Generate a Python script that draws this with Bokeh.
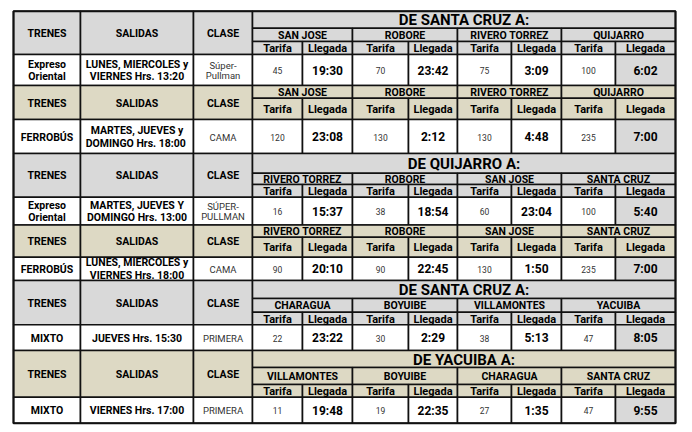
from bokeh.plotting import figure
from bokeh.models import ColumnDataSource, Range1d
from bokeh.core.properties import value
from bokeh.embed import file_html
from bokeh.resources import INLINE

# ---------------- data ----------------
trains = ["Expreso\nOriental", "FERROBÚS", "Expreso\nOriental", "FERROBÚS", "MIXTO", "MIXTO"]
salidas = ["LUNES, MIERCOLES y\nVIERNES Hrs. 13:20",
           "MARTES, JUEVES y\nDOMINGO  Hrs. 18:00",
           "MARTES, JUEVES Y\nDOMINGO Hrs. 13:00",
           "LUNES, MIERCOLES y\nVIERNES Hrs. 18:00",
           "JUEVES Hrs. 15:30",
           "VIERNES Hrs. 17:00"]
clases = ["Súper-\nPullman", "CAMA", "SÚPER-\nPULLMAN", "CAMA", "PRIMERA", "PRIMERA"]
titles = ["DE SANTA CRUZ A:", None, "DE QUIJARRO A:", None, "DE SANTA CRUZ A:", "DE YACUIBA A:"]
stations = [["SAN JOSE", "ROBORE", "RIVERO TORREZ", "QUIJARRO"],
            ["SAN JOSE", "ROBORE", "RIVERO TORREZ", "QUIJARRO"],
            ["RIVERO TORREZ", "ROBORE", "SAN JOSE", "SANTA CRUZ"],
            ["RIVERO TORREZ", "ROBORE", "SAN JOSE", "SANTA CRUZ"],
            ["CHARAGUA", "BOYUIBE", "VILLAMONTES", "YACUIBA"],
            ["VILLAMONTES", "BOYUIBE", "CHARAGUA", "SANTA CRUZ"]]
tarifas = [[45, 70, 75, 100],
           [120, 130, 130, 235],
           [16, 38, 60, 100],
           [90, 90, 130, 235],
           [22, 30, 38, 47],
           [11, 19, 27, 47]]
llegadas = [["19:30", "23:42", "3:09", "6:02"],
            ["23:08", "2:12", "4:48", "7:00"],
            ["15:37", "18:54", "23:04", "5:40"],
            ["20:10", "22:45", "1:50", "7:00"],
            ["23:22", "2:29", "5:13", "8:05"],
            ["19:48", "22:35", "1:35", "9:55"]]
head_left = ["TRENES", "SALIDAS", "CLASE"]
sub_head = ["Tarifa", "Llegada"]

# ---------------- layout ----------------
GREY = "#d9d9d9"
TAN = "#ddd9c4"
block_fill = [GREY, TAN, GREY, TAN, GREY, TAN]
# (title_top, station_top, tarifa_top, data_top, data_bottom)
rows = [(10.7, 27.7, 41.0, 54.0, 85.0),
        (None, 85.0, 97.7, 119.0, 153.0),
        (153.0, 172.7, 184.0, 196.7, 224.5),
        (None, 224.5, 236.7, 256.7, 280.0),
        (280.0, 298.0, 311.7, 324.3, 350.0),
        (350.0, 367.0, 384.0, 396.7, 422.7)]
left_x = [13, 80, 193, 252]
sub_x = [252, 302, 352, 408, 457, 511, 561, 615, 675]

FONT = "Roboto"

q = dict(left=[], right=[], top=[], bottom=[], fill=[])
t = dict(x=[], y=[], text=[], size=[], style=[], color=[])


def cell(x0, x1, y0, y1, fill):
    q["left"].append(x0); q["right"].append(x1)
    q["top"].append(y0); q["bottom"].append(y1)
    q["fill"].append(fill)


def label(x, y, text, size, style="bold", color="#000000"):
    t["x"].append(x); t["y"].append(y); t["text"].append(text)
    t["size"].append(size); t["style"].append(style); t["color"].append(color)


for b in range(6):
    tt, st, tf, dt, db = rows[b]
    fill = block_fill[b]
    top = tt if tt is not None else st
    # left header cells
    for i in range(3):
        cell(left_x[i], left_x[i + 1], top, dt, fill)
        label((left_x[i] + left_x[i + 1]) / 2, (top + dt) / 2 + 0.5, head_left[i], "10.5px")
    # data left cells
    dy = (dt + db) / 2 + 0.5
    cell(left_x[0], left_x[1], dt, db, "#ffffff")
    label((left_x[0] + left_x[1]) / 2, dy, trains[b], "10.5px")
    cell(left_x[1], left_x[2], dt, db, "#ffffff")
    label((left_x[1] + left_x[2]) / 2, dy, salidas[b], "10.5px")
    cell(left_x[2], left_x[3], dt, db, "#ffffff")
    label((left_x[2] + left_x[3]) / 2, dy, clases[b], "9.5px", "normal", "#333333")
    # title row
    if tt is not None:
        cell(sub_x[0], sub_x[-1], tt, st, fill)
        label((sub_x[0] + sub_x[-1]) / 2, (tt + st) / 2 + 0.5, titles[b], "15px")
    for k in range(4):
        x0, xm, x1 = sub_x[2 * k], sub_x[2 * k + 1], sub_x[2 * k + 2]
        cell(x0, x1, st, tf, fill)
        label((x0 + x1) / 2, (st + tf) / 2 + 0.5, stations[b][k], "10.5px")
        cell(x0, xm, tf, dt, fill)
        label((x0 + xm) / 2, (tf + dt) / 2 + 0.5, sub_head[0], "11px")
        cell(xm, x1, tf, dt, fill)
        label((xm + x1) / 2, (tf + dt) / 2 + 0.5, sub_head[1], "11px")
        cell(x0, xm, dt, db, "#ffffff")
        label((x0 + xm) / 2, dy, str(tarifas[b][k]), "8.5px", "normal", "#333333")
        cell(xm, x1, dt, db, GREY if k == 3 else "#ffffff")
        label((xm + x1) / 2, dy, llegadas[b][k], "12px")

p = figure(width=680, height=426, output_backend="svg", toolbar_location=None,
           x_range=Range1d(0, 680), y_range=Range1d(426, 0),
           min_border=0, background_fill_color="#ffffff")
p.axis.visible = False
p.xgrid.visible = False
p.ygrid.visible = False
p.outline_line_color = None

p.quad(left="left", right="right", top="top", bottom="bottom", fill_color="fill",
       line_color="#111111", line_width=1.6, source=ColumnDataSource(q))
p.quad(left=[13], right=[675], top=[10.7], bottom=[422.7], fill_color=None,
       line_color="#111111", line_width=2)
p.text(x="x", y="y", text="text", text_font_size="size", text_font_style="style",
       text_color="color", text_align="center", text_baseline="middle",
       text_font=value(FONT), text_line_height=0.98, source=ColumnDataSource(t))

open("out.html", "w").write(file_html(p, INLINE))
